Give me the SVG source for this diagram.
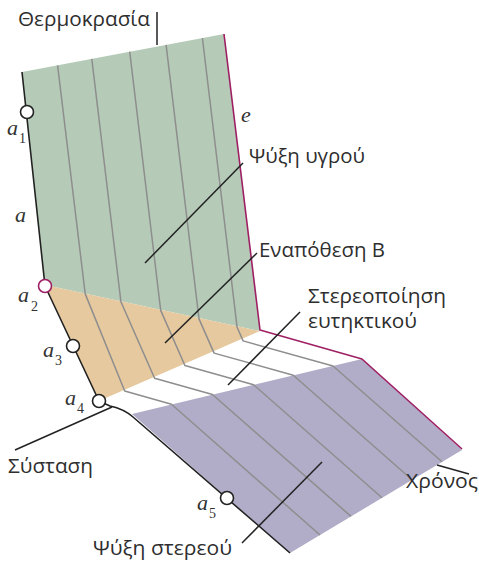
<svg xmlns="http://www.w3.org/2000/svg" width="479" height="562" viewBox="0 0 479 562">
<style>
.grid{fill:none;stroke:#8e8e8e;stroke-width:1.5;stroke-linejoin:round}
.lead{fill:none;stroke:#222;stroke-width:1.5}
.edge{fill:none;stroke:#222;stroke-width:1.6;stroke-linejoin:round}
.mag{fill:none;stroke:#9e1f63;stroke-width:1.6;stroke-linejoin:round}
.pt{fill:#fff;stroke:#222;stroke-width:1.6}
.lbl{font-family:"Open Sans","Noto Sans","Liberation Sans",sans-serif;font-size:20px;fill:#2e2e2e}
.var{font-family:"Liberation Serif",serif;font-style:italic;font-size:22px;fill:#333}
.sub{font-family:"Liberation Serif",serif;font-size:14px;fill:#333}
</style>
<rect width="479" height="562" fill="#fff"/>
<g id="regions">
<polygon id="liquid" points="22,72 224,34 260,331 45,285" fill="#b5cbb8"/>
<polygon id="depositB" points="45,285 260,331 101,400 99,401" fill="#e6c99e"/>
<polygon id="solid" points="132,414 362,359 462,450 290,553" fill="#b1acc7"/>
</g>
<g id="gridlines">
<polyline class="grid" points="57.6,65.3 85.2,293.9 124.7,391 171.5,404.3 320,535"/>
<polyline class="grid" points="91.8,58.9 120.9,301.7 154.6,378.3 212.5,394.5 351,516.4"/>
<polyline class="grid" points="129.7,51.7 160.7,310.4 184.9,365.5 253.6,384.7 382,497.8"/>
<polyline class="grid" points="166.1,44.9 199,318.9 214.1,353.1 293.3,375.3 412,479.8"/>
<polyline class="grid" points="202.4,38 237.1,327.3 243.1,340.9 333,366 442,461.8"/>
</g>
<g id="connectors">
<path class="edge" d="M22,72 L45,286 L99,401 L110,406 Q124,409 133,417 L290,553"/>
<path class="mag" d="M224,34 L260,330 L362,359 L462,449"/>
<line class="lead" x1="157" y1="12" x2="157" y2="45"/>
<line class="lead" x1="15" y1="450" x2="112" y2="407"/>
<line class="lead" x1="243" y1="163" x2="145" y2="263"/>
<line class="lead" x1="257" y1="253" x2="165" y2="343"/>
<line class="lead" x1="300" y1="312" x2="228" y2="385"/>
<line class="lead" x1="322" y1="462" x2="242" y2="543"/>
<line class="lead" x1="437" y1="465" x2="469" y2="474"/>
</g>
<g id="a1"><circle class="pt" cx="27" cy="112" r="6.5"/><text class="var" x="7" y="135">a</text><text class="sub" x="19" y="143">1</text></g>
<g id="a2"><circle class="pt" cx="45" cy="286" r="6.5" style="stroke:#9e1f63"/><text class="var" x="18" y="302">a</text><text class="sub" x="31" y="311">2</text></g>
<g id="a3"><circle class="pt" cx="73" cy="346" r="6.5"/><text class="var" x="43" y="357">a</text><text class="sub" x="55" y="365">3</text></g>
<g id="a4"><circle class="pt" cx="99" cy="401" r="6.5"/><text class="var" x="65" y="405">a</text><text class="sub" x="77" y="413">4</text></g>
<g id="a5"><circle class="pt" cx="227" cy="498" r="6.5"/><text class="var" x="197" y="510">a</text><text class="sub" x="209" y="518">5</text></g>
<g id="a"><text class="var" x="15" y="222">a</text></g>
<g id="e"><text class="var" x="241" y="122">e</text></g>
<g id="temp"><text class="lbl" x="18" y="26" textLength="132" lengthAdjust="spacingAndGlyphs">Θερμοκρασία</text></g>
<g id="liquidcool"><text class="lbl" x="249" y="163" textLength="116" lengthAdjust="spacingAndGlyphs">Ψύξη υγρού</text></g>
<g id="depB"><text class="lbl" x="259" y="257" textLength="126" lengthAdjust="spacingAndGlyphs">Εναπόθεση Β</text></g>
<g id="eutectic"><text class="lbl" x="308" y="303" textLength="138" lengthAdjust="spacingAndGlyphs">Στερεοποίηση</text><text class="lbl" x="308" y="328" textLength="109" lengthAdjust="spacingAndGlyphs">ευτηκτικού</text></g>
<g id="comp"><text class="lbl" x="8" y="473" textLength="85" lengthAdjust="spacingAndGlyphs">Σύσταση</text></g>
<g id="time"><text class="lbl" x="406" y="488" textLength="72" lengthAdjust="spacingAndGlyphs">Χρόνος</text></g>
<g id="solidcool"><text class="lbl" x="93" y="555" textLength="139" lengthAdjust="spacingAndGlyphs">Ψύξη στερεού</text></g>
</svg>
